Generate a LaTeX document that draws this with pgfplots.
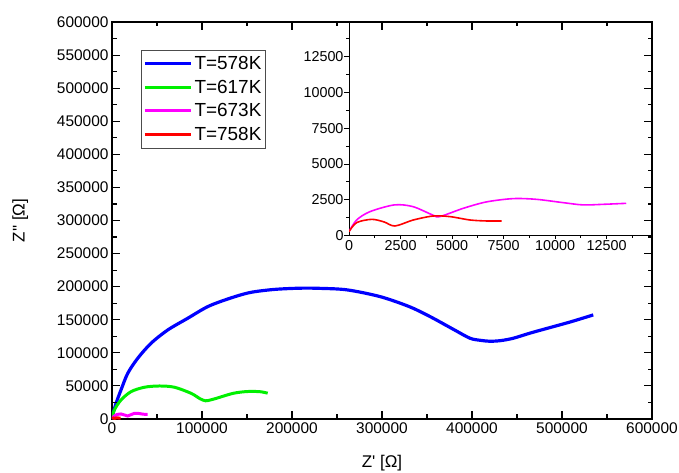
\documentclass[border=0pt]{standalone}
\usepackage{fontspec}
\setmainfont{Liberation Sans}
\usepackage{pgfplots}
\pgfplotsset{compat=1.18}

\definecolor{cblue}{RGB}{0,0,255}
\definecolor{cgreen}{RGB}{0,240,0}
\definecolor{cmag}{RGB}{255,0,255}
\definecolor{cred}{RGB}{255,0,0}

\pgfplotsset{
  plainnum/.style={
    scaled ticks=false,
    xticklabel style={/pgf/number format/fixed, /pgf/number format/1000 sep={}, /pgf/number format/assume math mode=true},
    yticklabel style={/pgf/number format/fixed, /pgf/number format/1000 sep={}, /pgf/number format/assume math mode=true},
  },
}

\begin{document}
\begin{tikzpicture}
\begin{axis}[
  name=main, at={(0,0)}, anchor=south west,
  scale only axis, width=540bp, height=397bp,
  xmin=0, xmax=600000, ymin=0, ymax=600000,
  xtick={0,100000,...,600000}, ytick={0,50000,...,600000},
  major tick length=0pt, minor tick length=0pt,
  axis line style={line width=1.2pt},
  plainnum,
  tick label style={font=\fontsize{15.5}{18}\selectfont},
  xlabel={Z\textquotesingle\ [Ω]}, ylabel={Z\textquotesingle\textquotesingle\ [Ω]},
  label style={font=\fontsize{17}{20}\selectfont},
  xlabel style={at={(axis description cs:0.5,-0.111)}, anchor=center},
  ylabel style={at={(axis description cs:-0.170,0.5)}, anchor=center, rotate=0},
  legend style={at={(axis description cs:0.0537,0.93)}, anchor=north west,
    draw=black!70, line width=0.8pt, font=\fontsize{19}{22}\selectfont,
    row sep=5bp, inner xsep=2bp, inner ysep=4bp},
  legend cell align=left,
  legend image code/.code={\draw[#1] (0bp,0bp) -- (46bp,0bp);},
]
\addplot[cblue, line width=3.2pt, smooth] coordinates {
(0,0) (800,6000) (4500,23700) (10000,43900) (17500,69100) (28600,91800)
(43400,114500) (62000,134600) (84200,152300) (106500,169900)
(130000,182000) (153200,191100) (180000,195800) (208800,197700) (230000,197500)
(261000,195200) (297800,185000) (330000,170000) (353400,154800) (380000,135000)
(397900,122000) (410000,118800) (420100,117500) (432000,118500) (445700,122000)
(465000,130000) (483500,137000) (510000,147000) (534700,157300)
};
\addlegendentry{T=578K}
\addplot[cgreen, line width=3pt, smooth] coordinates {
(0,0) (2600,13600) (10000,28700) (21100,41300) (36000,48000) (52700,49900)
(69400,48000) (87900,38800) (98000,30500) (104000,27500) (110000,29000)
(116100,31300) (134600,38800) (150000,41500) (164300,41300) (173000,39000)
};
\addlegendentry{T=617K}
\addplot[cmag, line width=3pt, smooth] coordinates {
(0,500) (2000,4000) (5000,6500) (10000,7600) (14000,6000) (17500,4500)
(21000,6500) (25000,8600) (30000,8300) (35000,7200) (39700,7100)
};
\addlegendentry{T=673K}
\addplot[cred, line width=3pt, smooth] coordinates {
(0,350) (500,1200) (1400,1500) (2900,900) (4100,1400) (5300,1800)
(6400,1750) (7600,1400) (8700,1300) (9500,1300)
};
\addlegendentry{T=758K}
\end{axis}

\begin{axis}[
  name=inset, at={(237bp,183.5bp)}, anchor=south west,
  scale only axis, width=303bp, height=213bp,
  xmin=0, xmax=14700, ymin=0, ymax=14900,
  xtick={0,2500,...,12500}, ytick={0,2500,...,12500},
  major tick length=0pt, minor tick length=0pt,
  axis line style={line width=1pt},
  plainnum,
  tick label style={font=\fontsize{14.4}{17}\selectfont},
  xticklabel style={yshift=-1.5bp}, yticklabel style={xshift=-2bp},
]
\addplot[cmag, line width=1.6pt, smooth] coordinates {
(0,270) (370,1085) (1020,1670) (2200,2140) (3100,2020) (4050,1440)
(4400,1320) (5540,1900) (6670,2350) (7960,2580) (9090,2530) (10380,2300)
(11350,2140) (12320,2180) (13450,2250)
};
\addplot[cred, line width=1.6pt, smooth] coordinates {
(0,270) (370,900) (1100,1130) (1700,950) (2230,665) (3120,1085) (4090,1365)
(4900,1320) (5870,1085) (6690,1015) (7400,1015)
};
\end{axis}

% tick marks of the main axis (inward, all four sides)
\begin{scope}[line width=1.1pt, black]
  \foreach \i in {1,...,5} {
    \draw (\i*90bp,0bp) -- ++(0,8bp);
    \draw (\i*90bp,397bp) -- ++(0,-8bp);
  }
  \foreach \i in {0,...,5} {
    \draw (45bp+\i*90bp,0bp) -- ++(0,4.5bp);
    \draw (45bp+\i*90bp,397bp) -- ++(0,-4.5bp);
  }
  \foreach \j in {1,...,11} {
    \draw (0bp,\j*33.0833bp) -- ++(8bp,0);
    \draw (540bp,\j*33.0833bp) -- ++(-8bp,0);
  }
  \foreach \j in {0,...,11} {
    \draw (0bp,16.5417bp+\j*33.0833bp) -- ++(4.5bp,0);
    \draw (540bp,16.5417bp+\j*33.0833bp) -- ++(-4.5bp,0);
  }
\end{scope}
% tick marks of the inset (outward, left and bottom)
\begin{scope}[shift={(237bp,183.5bp)}, line width=0.9pt, black]
  \foreach \i in {1,...,5} \draw (\i*51.53bp,0bp) -- ++(0,-4bp);
  \foreach \i in {0,...,5} \draw (25.765bp+\i*51.53bp,0bp) -- ++(0,-2.5bp);
  \foreach \j in {0,...,5} \draw (0bp,\j*35.74bp) -- ++(-5bp,0);
  \foreach \j in {0,...,5} \draw (0bp,17.87bp+\j*35.74bp) -- ++(-3bp,0);
\end{scope}
\pgfresetboundingbox
\path[use as bounding box] (-112bp,-54bp) rectangle (567bp,419bp);
\end{tikzpicture}
\end{document}
